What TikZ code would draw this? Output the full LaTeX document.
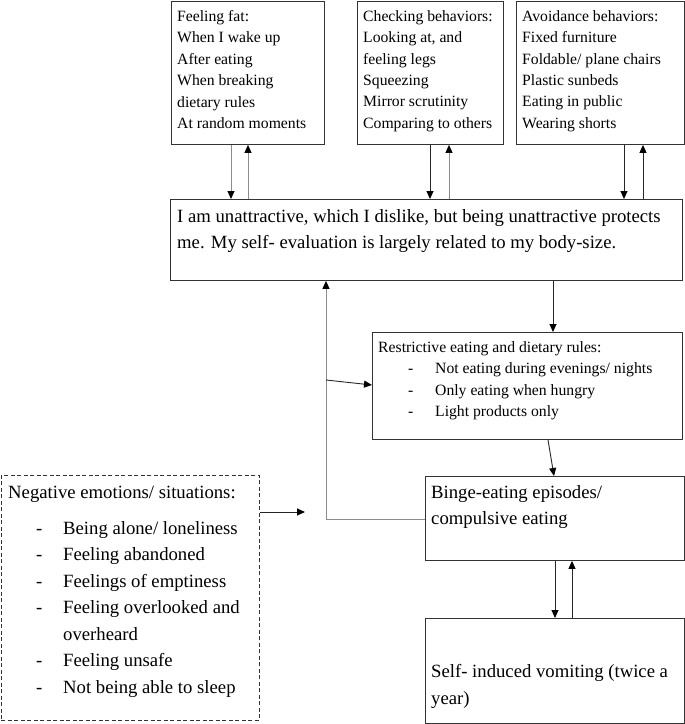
\documentclass[tikz,border=0pt]{standalone}
\usepackage{fontspec}
\setmainfont{Liberation Serif}
\usetikzlibrary{arrows.meta}
\tikzset{
  box/.style={draw=black!80, line width=0.9pt, rectangle, inner sep=0pt, anchor=north west},
  dbox/.style={box, dash pattern=on 4pt off 2.5pt},
  txt/.style={anchor=north west, inner sep=0pt, align=left},
  small/.style={font=\fontsize{15.7}{21.4}\selectfont},
  big/.style={font=\fontsize{18.7}{26.5}\selectfont},
  arr/.style={line width=0.9pt, draw=black!85, -{Triangle[length=8pt,width=7pt,color=black]}},
  garr/.style={arr, draw=black!45},
  gline/.style={line width=0.9pt, draw=black!45}
}
\newcommand{\itm}[1]{\hspace*{30pt}\makebox[27pt][l]{-}#1}
\newcommand{\itn}[1]{\hspace*{28pt}\makebox[27pt][l]{-}#1}
\begin{document}
\begin{tikzpicture}[x=1pt,y=-1pt]
\useasboundingbox (0,0) rectangle (685,724);
% boxes
\node[box, minimum width=153pt, minimum height=143pt] (fat) at (171,1) {};
\node[box, minimum width=146pt, minimum height=143pt] (check) at (357,1) {};
\node[box, minimum width=168pt, minimum height=143pt] (avoid) at (516,1) {};
\node[box, minimum width=512pt, minimum height=81pt] (main) at (170,199) {};
\node[box, minimum width=310pt, minimum height=107pt] (restr) at (372,332) {};
\node[box, minimum width=259pt, minimum height=84pt] (binge) at (425,476) {};
\node[box, minimum width=259pt, minimum height=105pt] (vomit) at (425,618) {};
\node[dbox, minimum width=258pt, minimum height=245pt] (neg) at (1,475) {};
% texts
\node[txt, small] (fatt) at (177,10.3) {Feeling fat:\\When I wake up\\After eating\\When breaking\\dietary rules\\At random moments};
\node[txt, small] (checkt) at (363,10.3) {Checking behaviors:\\Looking at, and\\feeling legs\\Squeezing\\Mirror scrutinity\\Comparing to others};
\node[txt, small] (avoidt) at (522,10.3) {Avoidance behaviors:\\Fixed furniture\\Foldable/ plane chairs\\Plastic sunbeds\\Eating in public\\Wearing shorts};
\node[txt, big] (maint) at (177,209) {I am unattractive, which I dislike, but being unattractive protects\\me. My self- evaluation is largely related to my body-size.};
\node[txt, small] (restrt) at (378,341.3) {Restrictive eating and dietary rules:\\\itm{Not eating during evenings/ nights}\\\itm{Only eating when hungry}\\\itm{Light products only}};
\node[txt, big] (negt) at (8,486.2) {Negative emotions/ situations:\\[8.8pt]\itn{Being alone/ loneliness}\\\itn{Feeling abandoned}\\\itn{Feelings of emptiness}\\\itn{Feeling overlooked and}\\\hspace*{55pt}overheard\\\itn{Feeling unsafe}\\\itn{Not being able to sleep}};
\node[txt, big] (binget) at (431,485.2) {Binge-eating episodes/\\compulsive eating};
\node[txt, big] (vomitt) at (431,664.2) {Self- induced vomiting (twice a\\year)};
% coordinates
\coordinate (fb) at (326,519);
\coordinate (br) at (326,380);
\coordinate (negend) at (305,512);
% connectors
\draw[garr] ([xshift=60pt]fat.south west) -- ([xshift=61pt]main.north west);
\draw[garr] ([xshift=78pt]main.north west) -- ([xshift=77pt]fat.south west);
\draw[arr] ([xshift=73pt]check.south west) -- ([xshift=260pt]main.north west);
\draw[garr] ([xshift=279pt]main.north west) -- ([xshift=92pt]check.south west);
\draw[arr] ([xshift=108pt]avoid.south west) -- ([xshift=454pt]main.north west);
\draw[arr] ([xshift=473pt]main.north west) -- ([xshift=127pt]avoid.south west);
\draw[arr] ([xshift=383pt]main.south west) -- ([xshift=181pt]restr.north west);
\draw[gline] (binge.west |- fb) -- (fb);
\draw[garr] (fb) -- (main.south -| fb);
\draw[arr] (br) -- ([yshift=-53pt]restr.north west);
\draw[arr] ([xshift=176pt]restr.south west) -- ([xshift=129pt]binge.north west);
\draw[arr] ([xshift=130pt]binge.south west) -- ([xshift=130pt]vomit.north west);
\draw[arr] ([xshift=147pt]vomit.north west) -- ([xshift=147pt]binge.south west);
\draw[arr] (neg.east |- negend) -- (negend);
\end{tikzpicture}
\end{document}
